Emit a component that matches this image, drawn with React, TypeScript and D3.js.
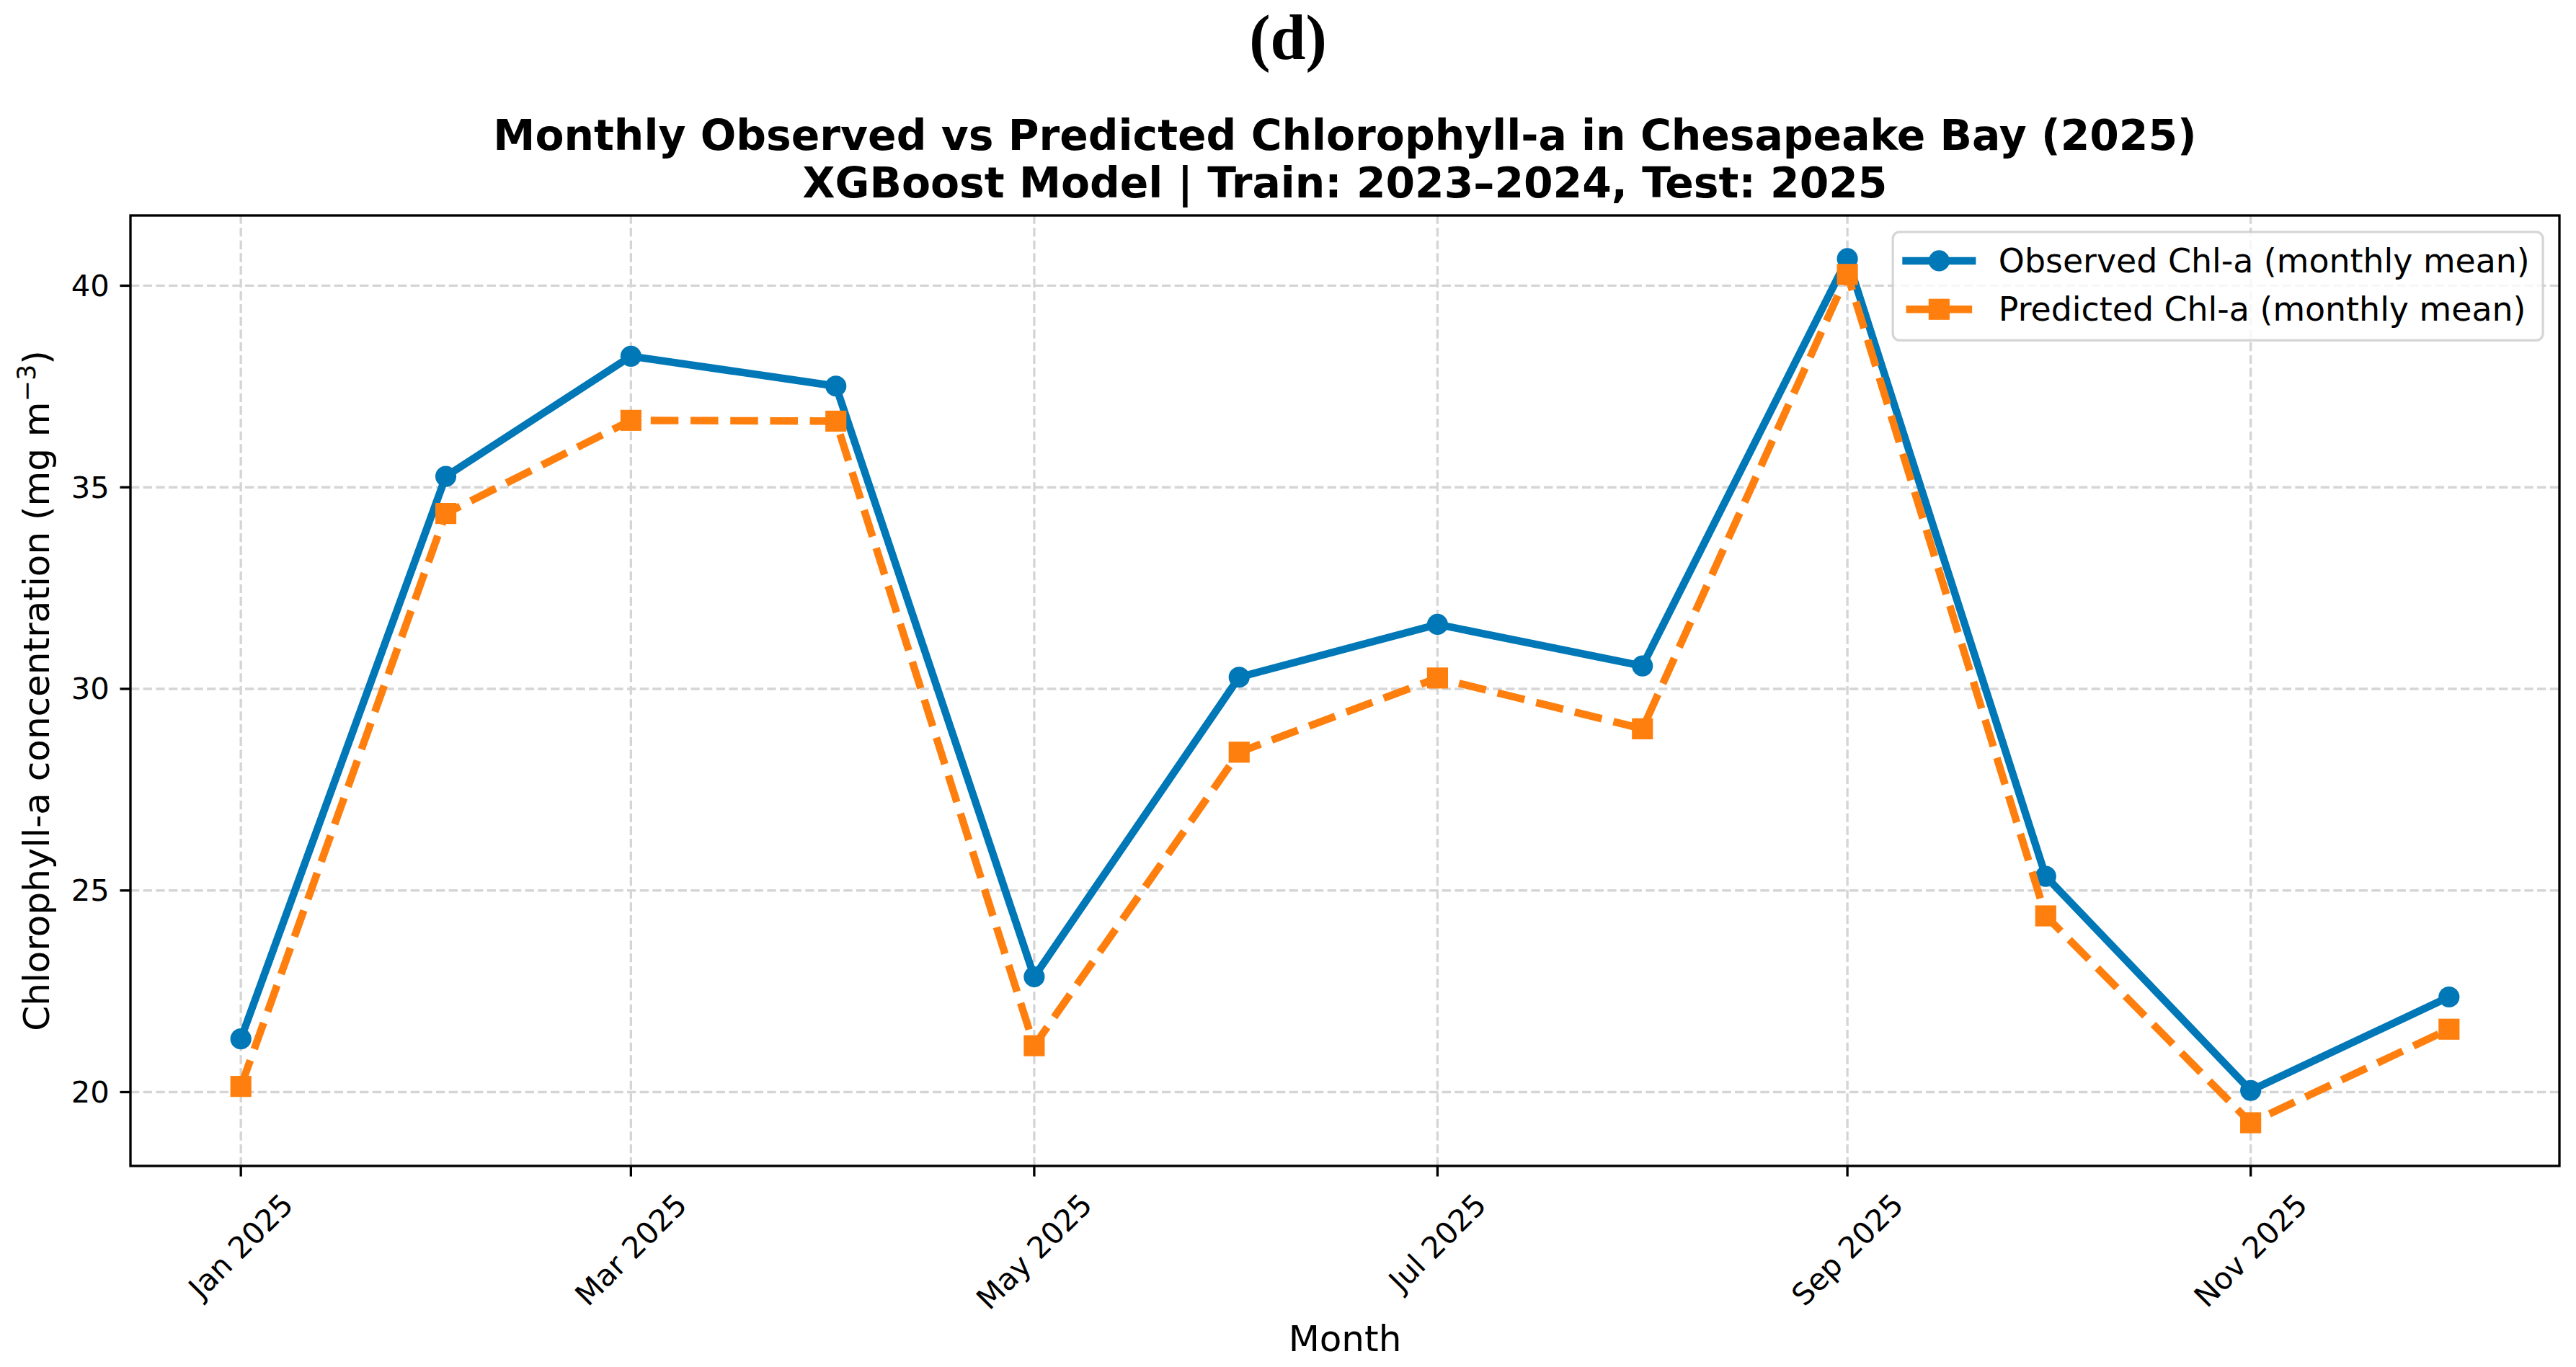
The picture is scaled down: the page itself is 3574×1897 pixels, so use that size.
import React from "react";
import * as d3 from "d3";

// ---------- data ----------
const monthStarts = [
  "2025-01-01", "2025-02-01", "2025-03-01", "2025-04-01", "2025-05-01", "2025-06-01",
  "2025-07-01", "2025-08-01", "2025-09-01", "2025-10-01", "2025-11-01", "2025-12-01",
];
const observedChl = [21.32, 35.27, 38.25, 37.51, 22.86, 30.29, 31.6, 30.57, 40.67, 25.35, 20.04, 22.36];
const predictedChl = [20.14, 34.35, 36.66, 36.64, 21.15, 28.43, 30.27, 29.01, 40.28, 24.37, 19.24, 21.56];
const xTickMonths = ["2025-01-01", "2025-03-01", "2025-05-01", "2025-07-01", "2025-09-01", "2025-11-01"];
const yTickValues = [20, 25, 30, 35, 40];
const seriesLabels = ["Observed Chl-a (monthly mean)", "Predicted Chl-a (monthly mean)"];
const titleLines = [
  "Monthly Observed vs Predicted Chlorophyll-a in Chesapeake Bay (2025)",
  "XGBoost Model | Train: 2023\u20132024, Test: 2025",
];
const panelLabel = "(d)";

// ---------- layout ----------
const W = 3574;
const H = 1897;
const PT = 300 / 72; // px per point
const L = 181, R = 3551, T = 299, B = 1618;
const SANS = "DejaVu Sans";
const TICK_FS = 10 * PT;
const LEG_FS = 11 * PT;
const LABEL_FS = 12 * PT;
const TITLE_FS = 14 * PT;
const BLUE = "#0077b6";
const ORANGE = "#ff7f0e";

let _ctx: CanvasRenderingContext2D | null = null;
function measure(text: string, size: number, weight = "normal", family = SANS) {
  if (!_ctx) _ctx = document.createElement("canvas").getContext("2d");
  if (!_ctx) return text.length * size * 0.6;
  _ctx.font = `${weight} ${size}px "${family}"`;
  return _ctx.measureText(text).width;
}

export default function App() {
  const parse = d3.utcParse("%Y-%m-%d");
  const dates = monthStarts.map((s) => parse(s) as Date);
  const t0 = dates[0].getTime();
  const t1 = dates[dates.length - 1].getTime();
  const xpad = (t1 - t0) * 0.05;
  const x = d3.scaleUtc().domain([new Date(t0 - xpad), new Date(t1 + xpad)]).range([L, R]);

  const all = observedChl.concat(predictedChl);
  const ymin = d3.min(all) as number;
  const ymax = d3.max(all) as number;
  const ypad = (ymax - ymin) * 0.05;
  const y = d3.scaleLinear().domain([ymin - ypad, ymax + ypad]).range([B, T]);

  const lineGen = d3
    .line<number>()
    .x((_, i) => x(dates[i]))
    .y((v) => y(v));

  const fmt = d3.utcFormat("%b %Y");
  const lw = 2.5 * PT;
  const gridW = 0.8 * PT;
  const spineW = 0.8 * PT;
  const tickLen = 3.5 * PT;
  const tickPad = 3.5 * PT;
  const markerD = 7 * PT;

  // legend geometry (matplotlib defaults at 11pt)
  const borderAxesPad = 0.5 * LEG_FS;
  const borderPad = 0.4 * LEG_FS;
  const handleLen = 2.0 * LEG_FS;
  const handleTextPad = 0.8 * LEG_FS;
  const labelSpacing = 0.5 * LEG_FS;
  const rowH = LEG_FS * 0.99;
  const textW = Math.max(...seriesLabels.map((s) => measure(s, LEG_FS)));
  const legW = 2 * borderPad + handleLen + handleTextPad + textW;
  const legH = 2 * borderPad + 2 * rowH + labelSpacing;
  const legR = R - borderAxesPad;
  const legL = legR - legW;
  const legT = T + borderAxesPad;
  const rowY = [legT + borderPad + rowH / 2 - 1, legT + borderPad + rowH * 1.5 + labelSpacing - 2];
  const hx0 = legL + borderPad;
  const hx1 = hx0 + handleLen;
  const hxm = (hx0 + hx1) / 2;

  const dashOrange = `${3.7 * lw} ${1.6 * lw}`;
  const dashGrid = `${3.7 * gridW} ${1.6 * gridW}`;

  const xTickDates = xTickMonths.map((s) => parse(s) as Date);
  const textHeight = 1.164 * TICK_FS;
  const s45 = Math.SQRT1_2;

  const drawMarker = (kind: string, cx: number, cy: number, color: string, key: string) =>
    kind === "o" ? (
      <circle key={key} cx={cx} cy={cy} r={markerD / 2} fill={color} />
    ) : (
      <rect key={key} x={cx - markerD / 2} y={cy - markerD / 2} width={markerD} height={markerD} fill={color} />
    );

  return (
    <svg
      width={W}
      height={H}
      viewBox={`0 0 ${W} ${H}`}
      style={{ position: "absolute", left: 0, top: 0, display: "block", background: "#fff" }}
      fontFamily={SANS}
    >
      <rect x={0} y={0} width={W} height={H} fill="#fff" />

      {/* panel label */}
      <text x={W / 2} y={82} textAnchor="middle" fontFamily="Liberation Serif" fontWeight="bold" fontSize={88}>
        {panelLabel}
      </text>

      {/* title */}
      {titleLines.map((t, i) => (
        <text key={t} x={(L + R) / 2} y={208 + i * 66} textAnchor="middle" fontWeight="bold" fontSize={TITLE_FS}>
          {t}
        </text>
      ))}

      {/* grid */}
      <g stroke="#d5d5d5" strokeWidth={gridW} strokeDasharray={dashGrid}>
        {xTickDates.map((d) => (
          <line key={"gx" + d.getTime()} x1={x(d)} x2={x(d)} y1={B} y2={T} />
        ))}
        {yTickValues.map((v) => (
          <line key={"gy" + v} x1={L} x2={R} y1={y(v)} y2={y(v)} />
        ))}
      </g>

      {/* observed */}
      <path
        d={lineGen(observedChl) || ""}
        fill="none"
        stroke={BLUE}
        strokeWidth={lw}
        strokeLinejoin="round"
        strokeLinecap="square"
      />
      {observedChl.map((v, i) => drawMarker("o", x(dates[i]), y(v), BLUE, "mo" + i))}

      {/* predicted */}
      <path
        d={lineGen(predictedChl) || ""}
        fill="none"
        stroke={ORANGE}
        strokeWidth={lw}
        strokeDasharray={dashOrange}
        strokeLinejoin="round"
        strokeLinecap="butt"
      />
      {predictedChl.map((v, i) => drawMarker("s", x(dates[i]), y(v), ORANGE, "mp" + i))}

      {/* spines */}
      <rect x={L} y={T} width={R - L} height={B - T} fill="none" stroke="#000" strokeWidth={spineW} />

      {/* y ticks */}
      {yTickValues.map((v) => (
        <g key={"yt" + v}>
          <line x1={L - tickLen} x2={L} y1={y(v)} y2={y(v)} stroke="#000" strokeWidth={spineW} />
          <text x={L - tickLen - tickPad} y={y(v)} textAnchor="end" dominantBaseline="central" fontSize={TICK_FS}>
            {v}
          </text>
        </g>
      ))}

      {/* x ticks */}
      {xTickDates.map((d) => {
        const px = x(d);
        const label = fmt(d);
        const w = measure(label, TICK_FS);
        const top = B + tickLen + tickPad;
        const cy = top + ((w + textHeight) * s45) / 2;
        return (
          <g key={"xt" + d.getTime()}>
            <line x1={px} x2={px} y1={B} y2={B + tickLen} stroke="#000" strokeWidth={spineW} />
            <text
              x={px}
              y={cy}
              textAnchor="middle"
              dominantBaseline="central"
              fontSize={TICK_FS}
              transform={`rotate(-45 ${px} ${cy})`}
            >
              {label}
            </text>
          </g>
        );
      })}

      {/* axis labels */}
      <text x={(L + R) / 2} y={1875} textAnchor="middle" fontSize={LABEL_FS}>
        Month
      </text>
      <text x={68} y={(T + B) / 2} textAnchor="middle" fontSize={LABEL_FS} transform={`rotate(-90 68 ${(T + B) / 2})`}>
        Chlorophyll-a concentration (mg m
        <tspan fontSize={LABEL_FS * 0.7} dy={-LABEL_FS * 0.38}>
          {"\u22123"}
        </tspan>
        <tspan dy={LABEL_FS * 0.38}>)</tspan>
      </text>

      {/* legend */}
      <rect
        x={legL}
        y={legT}
        width={legW}
        height={legH}
        rx={0.2 * LEG_FS}
        ry={0.2 * LEG_FS}
        fill="#fff"
        fillOpacity={0.8}
        stroke="#cccccc"
        strokeOpacity={0.8}
        strokeWidth={spineW}
      />
      <line x1={hx0} x2={hx1} y1={rowY[0]} y2={rowY[0]} stroke={BLUE} strokeWidth={lw} strokeLinecap="square" />
      {drawMarker("o", hxm, rowY[0], BLUE, "lg0")}
      <line
        x1={hx0}
        x2={hx1}
        y1={rowY[1]}
        y2={rowY[1]}
        stroke={ORANGE}
        strokeWidth={lw}
        strokeDasharray={dashOrange}
        strokeLinecap="butt"
      />
      {drawMarker("s", hxm, rowY[1], ORANGE, "lg1")}
      {seriesLabels.map((s, i) => (
        <text key={s} x={hx1 + handleTextPad} y={rowY[i]} dominantBaseline="central" fontSize={LEG_FS}>
          {s}
        </text>
      ))}
    </svg>
  );
}
